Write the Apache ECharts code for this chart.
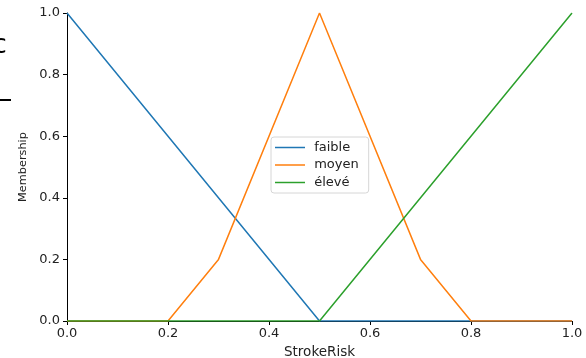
<!DOCTYPE html>
<html>
<head>
<meta charset="utf-8">
<script src="https://cdn.jsdelivr.net/npm/echarts@6/dist/echarts.min.js"></script>
<style>html,body{margin:0;padding:0;background:#fff;}#c{width:586px;height:358px;}</style>
</head>
<body>
<div id="c"></div>
<script>
var xTicks = [0, 0.2, 0.4, 0.6, 0.8, 1.0];
var yTicks = [0, 0.2, 0.4, 0.6, 0.8, 1.0];
var seriesNames = ['faible', 'moyen', 'élevé'];
var faible = [[0, 1], [0.5, 0], [1, 0]];
var moyen = [[0, 0], [0.2, 0], [0.3, 0.2], [0.5, 1], [0.7, 0.2], [0.8, 0], [1, 0]];
var eleve = [[0, 0], [0.5, 0], [1, 1]];
var colors = ['#1f77b4', '#ff7f0e', '#2ca02c'];

var FONT = 'DejaVu Sans';
var chart = echarts.init(document.getElementById('c'), null, {renderer: 'canvas'});
function axisCommon() {
  return {
    type: 'value', min: 0, max: 1, interval: 0.2,
    axisLine: {show: true, lineStyle: {color: '#000', width: 1}},
    axisTick: {show: true, length: 4, lineStyle: {color: '#000'}},
    splitLine: {show: false},
    axisLabel: {color: '#222', fontSize: 13, fontFamily: FONT, formatter: function (v) { return v.toFixed(1); }}
  };
}
var xa = axisCommon();
xa.name = 'StrokeRisk'; xa.nameLocation = 'middle'; xa.nameGap = 24;
xa.nameTextStyle = {fontSize: 13.5, fontFamily: FONT, color: '#222'};
xa.axisLabel.margin = 6;
var ya = axisCommon();
ya.name = 'Membership'; ya.nameLocation = 'middle'; ya.nameGap = 35;
ya.nameTextStyle = {fontSize: 11.3, fontFamily: FONT, color: '#222'};
ya.axisLabel.margin = 7;

var datas = [faible, moyen, eleve];
var series = seriesNames.map(function (n, i) {
  return {
    name: n, type: 'line', data: datas[i], symbol: 'none', showSymbol: false,
    lineStyle: {color: colors[i], width: 1.5}, itemStyle: {color: colors[i]},
    animation: false, z: 2 + i
  };
});

chart.setOption({
  animation: false,
  grid: {left: 67, right: 14, top: 13, bottom: 37, containLabel: false, outerBoundsMode: 'none'},
  xAxis: xa,
  yAxis: ya,
  legend: {
    data: seriesNames.map(function (n, i) { return {name: n, icon: 'rect', itemStyle: {color: colors[i]}}; }),
    orient: 'vertical', left: 271, top: 137,
    itemWidth: 30, itemHeight: 1.5, itemGap: 4.5,
    padding: [4, 10, 4, 4],
    backgroundColor: 'rgba(255,255,255,0.8)', borderColor: '#d6d6d6', borderWidth: 1, borderRadius: 3,
    textStyle: {fontSize: 13, fontFamily: FONT, color: '#222'},
    formatter: function (n) { return ' ' + n; }
  },
  graphic: [
    {type: 'text', left: -8, top: 32, style: {text: 'c', fontSize: 27, fontFamily: 'DejaVu Sans', fill: '#000'}},
    {type: 'rect', shape: {x: 0, y: 99, width: 11, height: 2}, style: {fill: '#000'}}
  ],
  series: series
});
</script>
</body>
</html>
